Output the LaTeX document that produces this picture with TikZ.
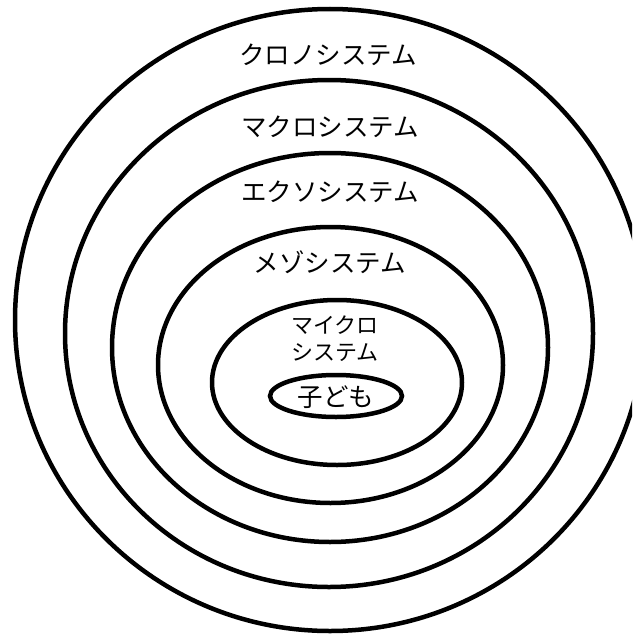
\documentclass[tikz,border=0pt]{standalone}
\usepackage{fontspec}
\newfontfamily\jpfont{Noto Sans CJK JP}
\begin{document}
\begin{tikzpicture}[x=1pt, y=-1pt,
  ring/.style={line width=4.5pt},
  lab/.style={font=\jpfont\fontsize{25.5}{27}\selectfont, inner sep=0pt, align=center},
  smalllab/.style={lab, font=\jpfont\fontsize{22}{27}\selectfont}]
\useasboundingbox (0,0) rectangle (632,634);
\clip (0,0) rectangle (632,634);
% ---------------- nested systems, outside in
\draw[ring] (330,320) ellipse [x radius=315, y radius=311];
\draw[ring] (329,333.5) ellipse [x radius=264, y radius=253.5];
\draw[ring] (330,347.5) ellipse [x radius=218, y radius=194.5];
\draw[ring] (330.5,365) ellipse [x radius=172.5, y radius=138];
\draw[ring] (337,382.5) ellipse [x radius=125, y radius=82.5];
\draw[ring] (336,396) ellipse [x radius=66, y radius=21];
% ---------------- labels
\node[lab] (chrono) at (328,55) {クロノシステム};
\node[lab] (macro) at (330,127) {マクロシステム};
\node[lab] (exo) at (330,192) {エクソシステム};
\node[lab] (meso) at (330,262) {メゾシステム};
\node[smalllab] (micro) at (335,339) {マイクロ\\システム};
\node[lab] (child) at (336,397) {子ども};
\end{tikzpicture}
\end{document}
